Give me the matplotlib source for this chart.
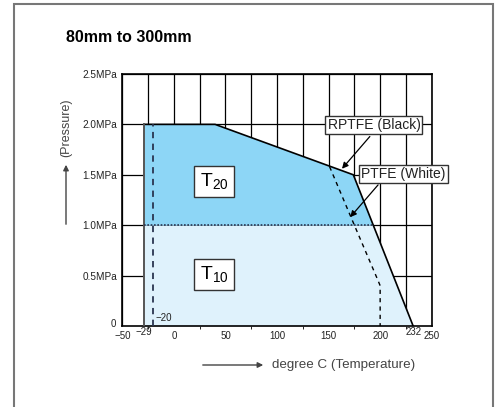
import numpy as np
import matplotlib
matplotlib.use("Agg")
import matplotlib.pyplot as plt
from matplotlib.patches import Rectangle, FancyArrowPatch

plt.rcParams['font.family'] = ['Liberation Sans', 'DejaVu Sans']

# rating boundary (temperature degC vs pressure MPa)
bound_t = [-29, 40, 174, 232]
bound_p = [2.0, 2.0, 1.5, 0.0]
min_temp = -29
split_p = 1.0

# RPTFE (black) seat limit, dashed
rptfe_t = [151, 175, 198, 200, 200]
rptfe_p = [1.58, 1.0, 0.45, 0.4, 0.0]
low_limit_t = -20

xtick_vals = [-50, 0, 50, 100, 150, 200, 250]
xtick_labels = ['\u221250', '0', '50', '100', '150', '200', '250']
ytick_vals = [0.5, 1.0, 1.5, 2.0, 2.5]
ytick_labels = ['0.5MPa', '1.0MPa', '1.5MPa', '2.0MPa', '2.5MPa']

fig = plt.figure(figsize=(4.98, 4.07), dpi=100)
ax = fig.add_axes([0.2456, 0.199, 0.6213, 0.6192])

# boundary as function of pressure for filling
p_sorted = np.array(bound_p[::-1][:-1])   # 0, 1.5, 2.0
t_sorted = np.array(bound_t[::-1][:-1])   # 232, 174, 40
p_hi = np.array([split_p, 1.5, 2.0])
p_lo = np.array([0.0, split_p])
ax.fill_betweenx(p_hi, min_temp, np.interp(p_hi, p_sorted, t_sorted),
                 color='#8dd6f6', lw=0, zorder=2)
ax.fill_betweenx(p_lo, min_temp, np.interp(p_lo, p_sorted, t_sorted),
                 color='#dff2fc', lw=0, zorder=2)

ax.plot(bound_t, bound_p, color='black', lw=1.2, zorder=4)
ax.plot([min_temp, min_temp], [0, 2.0], color='#555555', lw=1.4, zorder=4)
ax.plot([min_temp, np.interp(split_p, p_sorted, t_sorted)], [split_p, split_p],
        color='#2a3550', lw=1.2, ls=(0, (1, 1)), zorder=4)
ax.plot([low_limit_t, low_limit_t], [0, 2.0], color='#2a3550', lw=1.3,
        ls=(0, (3.5, 3)), zorder=4)
ax.plot(rptfe_t, rptfe_p, color='black', lw=1.0, ls=(0, (3, 3)), zorder=4)

ax.set_xlim(-50, 250)
ax.set_ylim(0, 2.5)
ax.set_xticks(np.arange(-50, 251, 25), minor=True)
ax.set_xticks(xtick_vals)
ax.set_xticklabels(xtick_labels, fontsize=7)
ax.set_yticks(ytick_vals)
ax.set_yticklabels(ytick_labels, fontsize=7.2)
ax.tick_params(length=0, pad=3.5, colors='#222222')
ax.grid(True, which='both', color='black', lw=0.9)
ax.set_axisbelow(True)
for s in ax.spines.values():
    s.set_linewidth(1.2)

ax.text(-59, 0.02, '0', fontsize=7, ha='center', va='center', color='#222222')
ax.text(min_temp, -0.06, '\u221229', fontsize=7, ha='center', va='center', color='#222222')
ax.text(232, -0.06, '232', fontsize=7, ha='center', va='center', color='#222222')
ax.text(-18, 0.08, '\u221220', fontsize=7, ha='left', va='center', color='#222222', zorder=5)

box = dict(boxstyle='square,pad=0.28', fc='white', ec='#333333', lw=1.0)
ax.text(39, 1.43, r'T$_{\mathregular{20}}$', fontsize=14, ha='center', va='center',
        bbox=box, zorder=6)
ax.text(39, 0.51, r'T$_{\mathregular{10}}$', fontsize=14, ha='center', va='center',
        bbox=box, zorder=6)

nbox = dict(boxstyle='square,pad=0.15', fc='white', ec='#333333', lw=1.0)
arr = dict(arrowstyle='-|>', color='black', lw=0.9, shrinkA=0, shrinkB=0,
           mutation_scale=9)
ax.annotate('', xy=(163, 1.56), xytext=(190, 1.88), arrowprops=arr, zorder=6)
ax.annotate('', xy=(171, 1.08), xytext=(198, 1.40), arrowprops=arr, zorder=6)
ax.text(194, 1.99, 'RPTFE (Black)', fontsize=10, ha='center',
        va='center', bbox=nbox, zorder=7, color='#222222')
ax.text(222.5, 1.51, 'PTFE (White)', fontsize=10, ha='center',
        va='center', bbox=nbox, zorder=7, color='#222222', clip_on=False)

# axis captions with arrows
fig.text(66 / 498, 1 - 128 / 407, '(Pressure)', rotation=90, fontsize=9,
         ha='center', va='center', color='#444444')
fig.add_artist(FancyArrowPatch(
    (66 / 498, 1 - 227 / 407), (66 / 498, 1 - 162 / 407),
    transform=fig.transFigure, arrowstyle='-|>', mutation_scale=8,
    color='#444444', lw=1.0))
fig.add_artist(FancyArrowPatch(
    (200 / 498, 1 - 365 / 407), (266 / 498, 1 - 365 / 407),
    transform=fig.transFigure, arrowstyle='-|>', mutation_scale=8,
    color='#444444', lw=1.0))
fig.text(272 / 498, 1 - 365 / 407, 'degree C (Temperature)', fontsize=9.6,
         ha='left', va='center', color='#444444')

fig.text(66 / 498, 1 - 38 / 407, '80mm to 300mm', fontsize=11.5, fontweight='bold',
         ha='left', va='center')

fig.add_artist(Rectangle((14 / 498, -0.05), (493 - 14) / 498, 1.05 - 4 / 407,
                         transform=fig.transFigure, fill=False,
                         ec='#777777', lw=1.5))

fig.savefig('out.png', dpi=100)
